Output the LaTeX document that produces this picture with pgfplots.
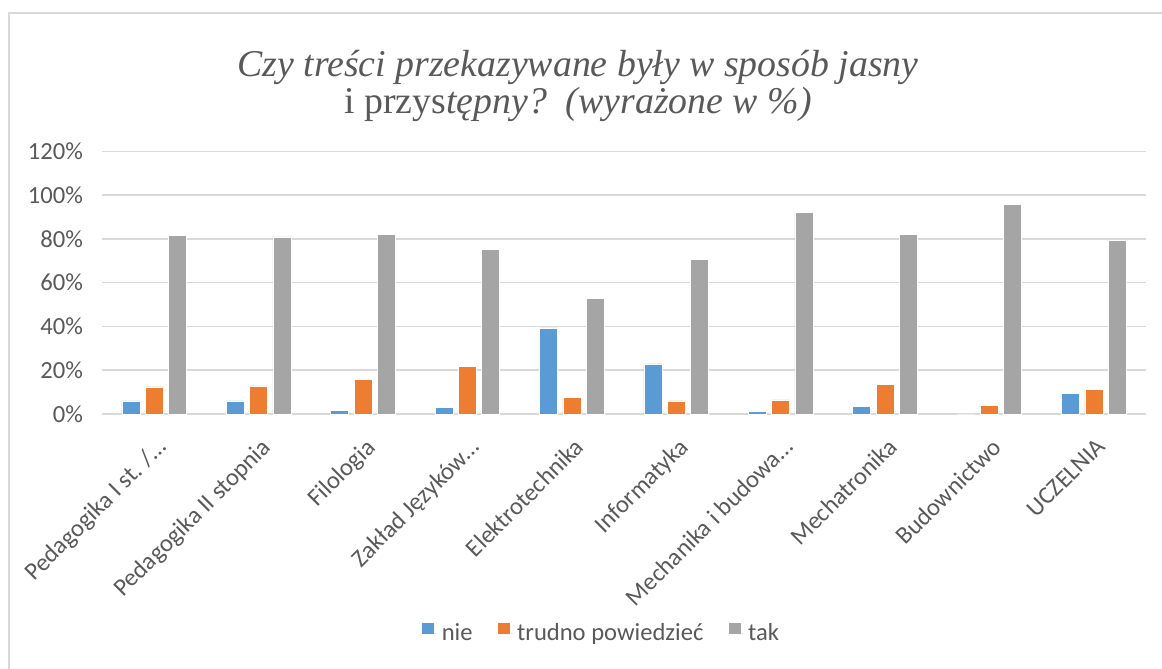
\documentclass[border=0pt]{standalone}
\usepackage{pgfplots}
\pgfplotsset{compat=1.18}
\usepackage{fontspec}
\setmainfont{Carlito}
\newfontfamily\titlefont{Liberation Serif}

\definecolor{cnie}{HTML}{5B9BD5}
\definecolor{ctrudno}{HTML}{ED7D31}
\definecolor{ctak}{HTML}{A5A5A5}
\definecolor{txt}{HTML}{595959}
\definecolor{gridc}{HTML}{D9D9D9}

\begin{document}
\begin{tikzpicture}
% canvas in px: 1px = 0.5pt, origin top left
\useasboundingbox (0,0) rectangle (581pt,-334.5pt);
\draw[gridc, line width=1pt] (4.5pt,-340pt) -- (4.5pt,-6.5pt) -- (590pt,-6.5pt);

\node[text=txt, align=center, font=\titlefont\fontsize{18.9}{18.5}\selectfont] at (289pt,-43pt)
  {\itshape Czy treści przekazywane były w sposób jasny\\
   i przys\textit{tępny?\ \ (wyrażone w \%)}};

\begin{axis}[
  at={(51pt,-207pt)}, anchor=south west,
  scale only axis,
  width=522pt, height=131.35pt,
  ybar=2.65pt, bar width=9pt,
  xmin=-0.5, xmax=9.5,
  ymin=0, ymax=120,
  xtick={0,...,9},
  xticklabels={Pedagogika I st. /…, Pedagogika II stopnia, Filologia, Zakład Języków…, Elektrotechnika, Informatyka, Mechanika i budowa…, Mechatronika, Budownictwo, UCZELNIA},
  xticklabel style={rotate=45, anchor=north east, font=\fontsize{12.3}{14}\selectfont, text=txt, xshift=-4pt, yshift=-5pt},
  ytick={0,20,...,120},
  yticklabel={\pgfmathprintnumber{\tick}\%},
  yticklabel style={font=\fontsize{12.3}{14}\selectfont, text=txt, xshift=-6pt},
  /pgf/number format/assume math mode=true,
  ymajorgrids, xmajorgrids=false,
  grid style={gridc, line width=0.75pt},
  axis x line*=bottom, axis y line*=left,
  x axis line style={gridc, line width=0.75pt},
  y axis line style={draw=none},
  major tick length=0pt,
  tick style={draw=none},
  legend style={at={(0.479,-0.837)}, anchor=center, draw=none, legend columns=-1,
    font=\fontsize{12.3}{14}\selectfont, text=txt,
    /tikz/every even column/.append style={column sep=10pt}},
  legend cell align=left,
  legend image code/.code={\fill[#1] (0pt,-0.5pt) rectangle (6.5pt,6pt); \path (0pt,0pt) -- (8pt,0pt);},
]
\addplot[fill=cnie, draw=white, line width=0.3pt] coordinates {
 (0,6.0) (1,6.0) (2,1.8) (3,2.9) (4,39.3) (5,22.9) (6,1.1) (7,3.5) (8,0) (9,9.5)};
\addplot[fill=ctrudno, draw=white, line width=0.3pt] coordinates {
 (0,12.4) (1,12.8) (2,15.9) (3,21.7) (4,7.6) (5,6.0) (6,6.4) (7,13.5) (8,4.0) (9,11.2)};
\addplot[fill=ctak, draw=white, line width=0.3pt] coordinates {
 (0,81.5) (1,80.9) (2,82.1) (3,75.2) (4,52.9) (5,70.6) (6,92.2) (7,82.1) (8,95.7) (9,79.4)};
\legend{nie, trudno powiedzieć, tak}
\end{axis}
\end{tikzpicture}
\end{document}
